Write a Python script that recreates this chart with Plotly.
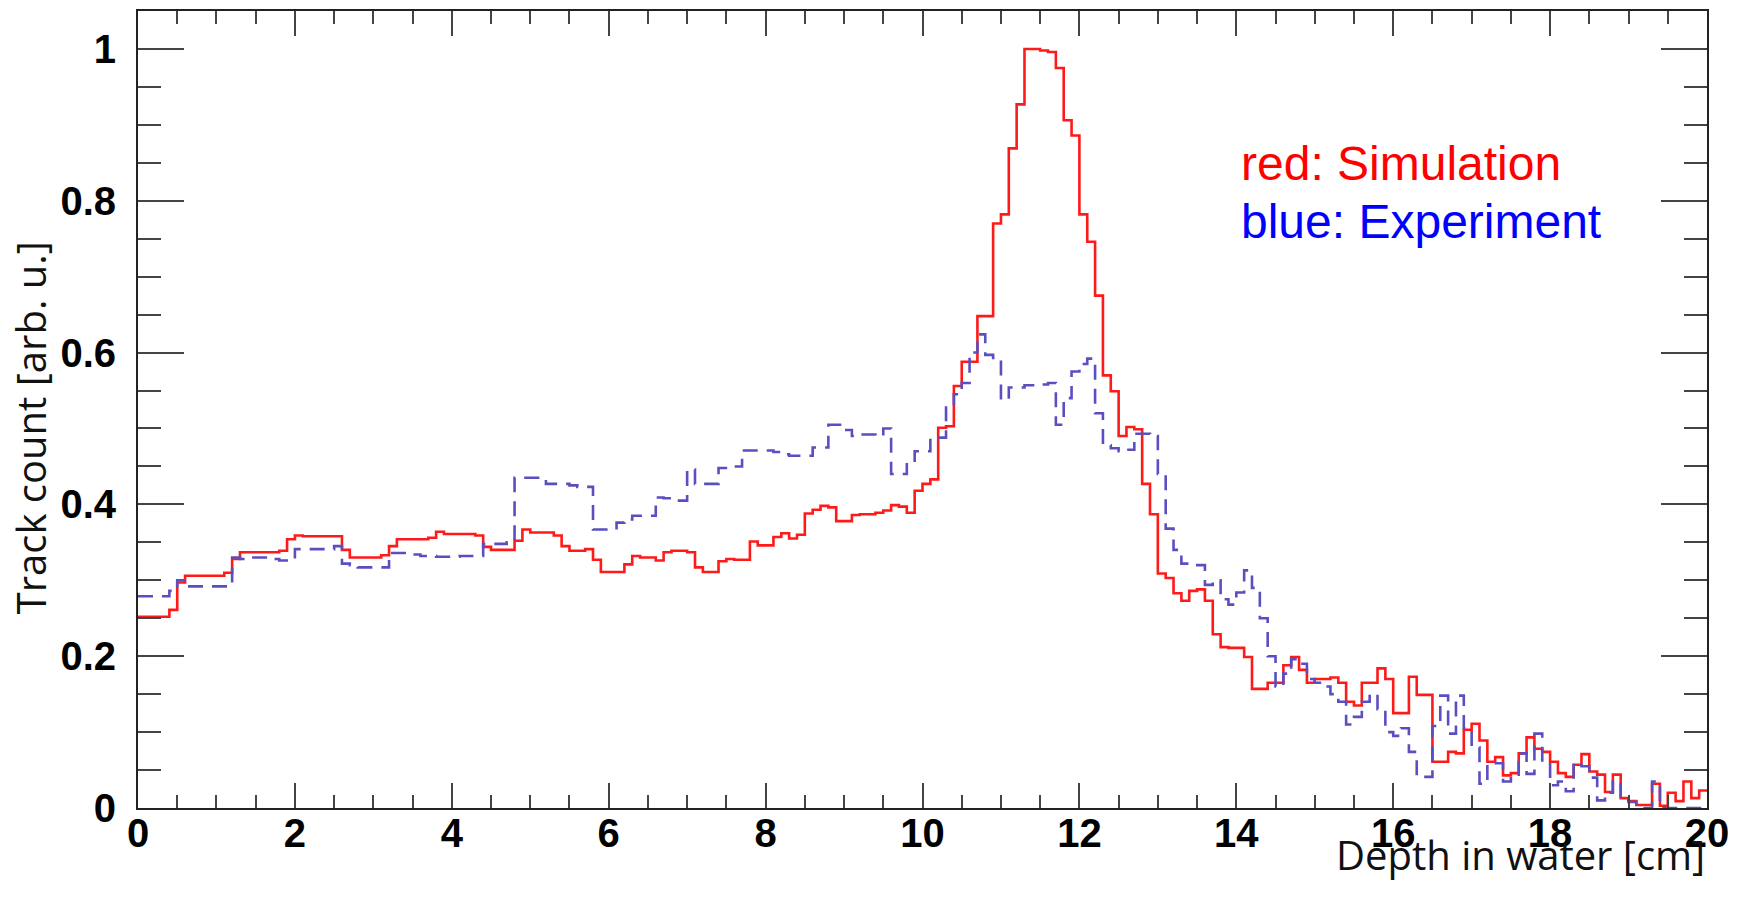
import plotly.graph_objects as go

# ---- data (bin width 0.1 cm, 200 bins from 0 to 20 cm) ----
bin_width = 0.1
n_bins = 200

simulation = [
    0.252, 0.252, 0.252, 0.252, 0.261, 0.297, 0.306, 0.306, 0.306, 0.306,
    0.306, 0.310, 0.328, 0.337, 0.337, 0.337, 0.337, 0.337, 0.339, 0.354,
    0.359, 0.358, 0.358, 0.358, 0.358, 0.358, 0.340, 0.330, 0.330, 0.330,
    0.330, 0.333, 0.345, 0.354, 0.354, 0.354, 0.354, 0.356, 0.364, 0.361,
    0.361, 0.361, 0.361, 0.359, 0.344, 0.340, 0.340, 0.340, 0.352, 0.367,
    0.363, 0.363, 0.363, 0.359, 0.345, 0.339, 0.339, 0.341, 0.327, 0.311,
    0.311, 0.311, 0.321, 0.332, 0.330, 0.330, 0.326, 0.337, 0.339, 0.339,
    0.337, 0.317, 0.311, 0.311, 0.325, 0.328, 0.327, 0.327, 0.351, 0.346,
    0.346, 0.357, 0.362, 0.355, 0.360, 0.388, 0.393, 0.398, 0.396, 0.378,
    0.378, 0.386, 0.387, 0.387, 0.389, 0.392, 0.399, 0.397, 0.389, 0.418,
    0.427, 0.433, 0.501, 0.503, 0.556, 0.588, 0.588, 0.648, 0.648, 0.770,
    0.782, 0.869, 0.927, 1.000, 1.000, 0.998, 0.996, 0.975, 0.906, 0.886,
    0.782, 0.746, 0.675, 0.570, 0.549, 0.490, 0.502, 0.499, 0.427, 0.387,
    0.309, 0.303, 0.283, 0.273, 0.286, 0.288, 0.273, 0.229, 0.212, 0.211,
    0.211, 0.199, 0.157, 0.157, 0.165, 0.165, 0.188, 0.199, 0.182, 0.165,
    0.170, 0.170, 0.172, 0.165, 0.140, 0.135, 0.165, 0.165, 0.184, 0.170,
    0.125, 0.125, 0.173, 0.149, 0.149, 0.061, 0.061, 0.074, 0.072, 0.103,
    0.111, 0.089, 0.061, 0.067, 0.043, 0.046, 0.072, 0.093, 0.078, 0.074,
    0.061, 0.046, 0.041, 0.057, 0.071, 0.048, 0.044, 0.021, 0.044, 0.013,
    0.009, 0.004, 0.004, 0.032, 0.003, 0.020, 0.009, 0.035, 0.013, 0.023,
]

experiment = [
    0.279, 0.279, 0.279, 0.279, 0.286, 0.300, 0.292, 0.292, 0.292, 0.292,
    0.292, 0.292, 0.330, 0.328, 0.330, 0.330, 0.330, 0.328, 0.326, 0.326,
    0.341, 0.341, 0.341, 0.341, 0.341, 0.345, 0.322, 0.320, 0.317, 0.317,
    0.317, 0.317, 0.336, 0.336, 0.336, 0.334, 0.332, 0.332, 0.331, 0.331,
    0.331, 0.332, 0.332, 0.332, 0.348, 0.348, 0.348, 0.350, 0.435, 0.435,
    0.435, 0.432, 0.427, 0.427, 0.427, 0.425, 0.423, 0.423, 0.367, 0.367,
    0.367, 0.376, 0.380, 0.385, 0.385, 0.385, 0.409, 0.408, 0.405, 0.405,
    0.446, 0.427, 0.427, 0.427, 0.448, 0.448, 0.450, 0.471, 0.471, 0.471,
    0.471, 0.469, 0.466, 0.464, 0.464, 0.464, 0.475, 0.475, 0.505, 0.505,
    0.498, 0.490, 0.492, 0.492, 0.490, 0.500, 0.440, 0.440, 0.455, 0.470,
    0.470, 0.488, 0.488, 0.530, 0.545, 0.560, 0.600, 0.624, 0.597, 0.593,
    0.538, 0.554, 0.554, 0.557, 0.557, 0.558, 0.560, 0.505, 0.540, 0.575,
    0.585, 0.592, 0.520, 0.478, 0.474, 0.470, 0.472, 0.493, 0.493, 0.490,
    0.440, 0.368, 0.340, 0.322, 0.320, 0.320, 0.294, 0.300, 0.275, 0.268,
    0.284, 0.313, 0.290, 0.250, 0.200, 0.160, 0.177, 0.196, 0.190, 0.170,
    0.165, 0.160, 0.150, 0.140, 0.110, 0.120, 0.140, 0.150, 0.130, 0.100,
    0.095, 0.105, 0.074, 0.041, 0.041, 0.108, 0.148, 0.098, 0.148, 0.105,
    0.080, 0.032, 0.059, 0.059, 0.035, 0.044, 0.072, 0.045, 0.098, 0.060,
    0.030, 0.035, 0.022, 0.059, 0.055, 0.040, 0.010, 0.020, 0.035, 0.010,
    0.008, 0.002, 0.000, 0.035, 0.000, 0.000, 0.000, 0.000, 0.000, 0.000,
]

x_tickvals = [0, 2, 4, 6, 8, 10, 12, 14, 16, 18, 20]
x_ticktext = ["0", "2", "4", "6", "8", "10", "12", "14", "16", "18", "20"]
y_tickvals = [0, 0.2, 0.4, 0.6, 0.8, 1.0]
y_ticktext = ["0", "0.2", "0.4", "0.6", "0.8", "1"]

x_title = "Depth in water [cm]"
y_title = "Track count [arb. u.]"
label_sim = "red: Simulation"
label_exp = "blue: Experiment"

# step-histogram coordinates (left bin edges plus closing edge)
edges = [round(i * bin_width, 1) for i in range(n_bins + 1)]


def step(values):
    return edges, list(values) + [values[-1]]


fig = go.Figure()
xs, ys = step(simulation)
fig.add_trace(go.Scatter(x=xs, y=ys, mode="lines", line_shape="hv",
                         line=dict(color="#ff1a1a", width=2.6), showlegend=False))
xe, ye = step(experiment)
fig.add_trace(go.Scatter(x=xe, y=ye, mode="lines", line_shape="hv",
                         line=dict(color="#5a4fc0", width=2.6, dash="15px,9px"),
                         showlegend=False))

tick_font = dict(family="Liberation Sans, Arial, sans-serif", size=40, color="black", weight="bold")

fig.update_xaxes(
    range=[0, 20], showgrid=False, zeroline=False,
    showline=True, linecolor="#222222", linewidth=2, mirror="ticks",
    ticks="inside", ticklen=25, tickwidth=1.5, tickcolor="#444444",
    tickvals=x_tickvals, ticktext=x_ticktext, tickfont=tick_font,
    ticklabelstandoff=-11,
    minor=dict(ticks="inside", dtick=0.5, ticklen=13, tickwidth=1.5, tickcolor="#444444", showgrid=False),
)
fig.update_yaxes(
    range=[0, 1.05], showgrid=False, zeroline=False,
    showline=True, linecolor="#222222", linewidth=2, mirror="ticks",
    ticks="inside", ticklen=46, tickwidth=1.5, tickcolor="#444444",
    tickvals=y_tickvals, ticktext=y_ticktext, tickfont=tick_font,
    ticklabelstandoff=12,
    minor=dict(ticks="inside", dtick=0.05, ticklen=23, tickwidth=1.5, tickcolor="#444444", showgrid=False),
)

x_title_font = dict(family="Open Sans, DejaVu Sans, sans-serif", size=40, color="#111111")
y_title_font = dict(family="Open Sans, DejaVu Sans, sans-serif", size=40, color="#111111")
legend_font = dict(family="Liberation Sans, Arial, sans-serif", size=48)

fig.add_annotation(text=x_title, xref="paper", yref="paper", x=1.0, y=-0.058,
                   xanchor="right", yanchor="middle", showarrow=False, font=x_title_font)
fig.add_annotation(text=y_title, xref="paper", yref="paper", x=-0.0685, y=0.477,
                   xanchor="center", yanchor="middle", textangle=-90, showarrow=False, font=y_title_font)
fig.add_annotation(text=label_sim, xref="paper", yref="paper", x=0.7015, y=0.8085,
                   xanchor="left", yanchor="middle", showarrow=False,
                   font=dict(legend_font, color="#ff0000"))
fig.add_annotation(text=label_exp, xref="paper", yref="paper", x=0.7015, y=0.736,
                   xanchor="left", yanchor="middle", showarrow=False,
                   font=dict(legend_font, color="#0000ff"))

fig.update_layout(
    width=1746, height=903,
    margin=dict(l=138, r=39, t=9, b=95),
    paper_bgcolor="white", plot_bgcolor="white",
    showlegend=False,
)

fig.write_html("out.html")
